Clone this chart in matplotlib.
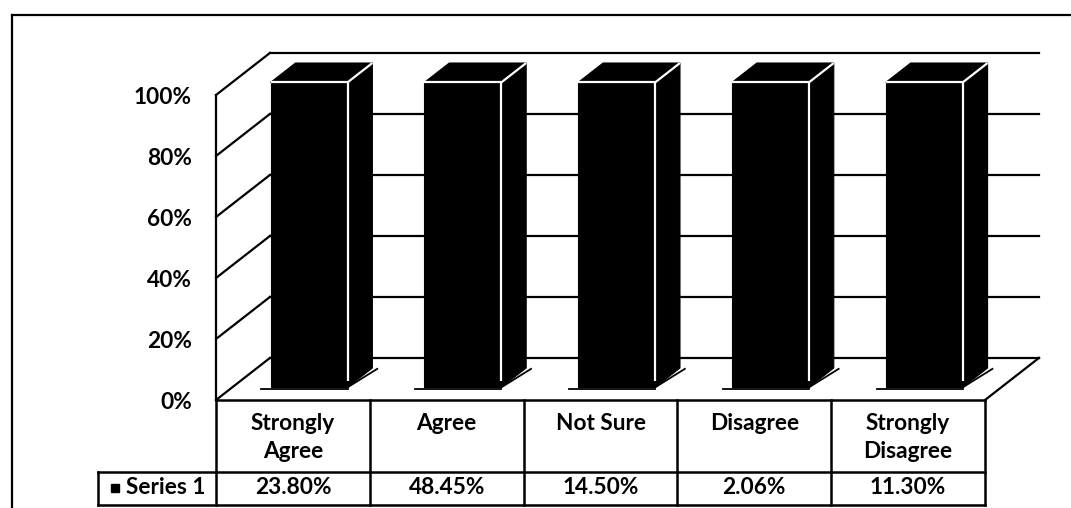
import matplotlib
matplotlib.use("Agg")
import matplotlib.pyplot as plt
from matplotlib.patches import Polygon
from matplotlib.lines import Line2D

# ---- data ----
categories = ["Strongly\nAgree", "Agree", "Not Sure", "Disagree", "Strongly\nDisagree"]
series_name = "Series 1"
series_1 = [23.80, 48.45, 14.50, 2.06, 11.30]
value_labels = ["23.80%", "48.45%", "14.50%", "2.06%", "11.30%"]
y_ticks = [0, 20, 40, 60, 80, 100]
y_tick_labels = ["0%", "20%", "40%", "60%", "80%", "100%"]

# 100% stacked column: each series is shown as its share of the category total
totals = [v for v in series_1]
shares = [100.0 * v / t for v, t in zip(series_1, totals)]

plt.rcParams["font.family"] = ["Lato", "DejaVu Sans"]
FS = 16.3

W, H = 1071, 508
fig = plt.figure(figsize=(W / 100, H / 100), dpi=100)
fig.patch.set_facecolor("white")


def frac(x0, y0, x1, y1):
    return [x0 / W, 1 - y1 / H, (x1 - x0) / W, (y1 - y0) / H]


n = len(categories)
ax = fig.add_axes(frac(216, 95, 985, 400))
ax.set_xlim(-0.5, n - 0.5)
ax.set_ylim(0, 100)
ax.axis("off")

# oblique depth direction in data units (z = 0 front, z = 1 back wall)
DXU = 0.351
DYU = 13.8
LW = 1.6


def proj(x, y, z):
    return x + DXU * z, y + DYU * z


def line(a, xs, ys, **kw):
    kw.setdefault("color", "black")
    kw.setdefault("lw", LW)
    a.plot(xs, ys, clip_on=False, **kw)


# back wall gridlines
for t in y_ticks:
    xa, ya = proj(-0.5, t, 1)
    xb, yb = proj(n - 0.5, t, 1)
    line(ax, [xa, xb], [ya, yb], zorder=1)

# left wall: front edge and diagonal tick lines
line(ax, [-0.5, -0.5], [0, 100], zorder=1)
for t in y_ticks:
    xa, ya = proj(-0.5, t, 0)
    xb, yb = proj(-0.5, t, 1)
    line(ax, [xa, xb], [ya, yb], zorder=1)

# floor right edge
xa, ya = proj(n - 0.5, 0, 0)
xb, yb = proj(n - 0.5, 0, 1)
line(ax, [xa, xb], [ya, yb], zorder=1)

# y tick labels
for t, lab in zip(y_ticks, y_tick_labels):
    ax.text(-0.5 - 24 / 153.8, t - 0.8, lab, ha="right", va="center",
            fontsize=FS, fontweight="bold", clip_on=False)

# 3D columns
ZF, ZB = 0.30, 0.76
HALF = 0.25
for i, h in enumerate(shares):
    x0, y0 = proj(i - HALF, 0, ZF)
    x1, _ = proj(i + HALF, 0, ZF)
    y1 = h + DYU * ZF
    ddx = (ZB - ZF) * DXU
    ddy = (ZB - ZF) * DYU
    front = [(x0, y0), (x1, y0), (x1, y1), (x0, y1)]
    side = [(x1, y0), (x1 + ddx, y0 + ddy), (x1 + ddx, y1 + ddy), (x1, y1)]
    top = [(x0, y1), (x1, y1), (x1 + ddx, y1 + ddy), (x0 + ddx, y1 + ddy)]
    # base outline on the floor
    line(ax, [x0 - 0.06, x1], [y0 - 0.5, y0 - 0.5], lw=1.3, zorder=2)
    line(ax, [x1, x1 + 0.55 * DXU], [y0, y0 + 0.55 * DYU * 0.8], lw=1.3, zorder=2)
    for poly in (side, top, front):
        ax.add_patch(Polygon(poly, closed=True, facecolor="black",
                             edgecolor="black", lw=0.8, zorder=3, clip_on=False))
    line(ax, [x0, x1], [y1, y1], color="white", lw=1.6, zorder=4, solid_capstyle="butt")
    line(ax, [x1, x1], [y0 + 2, y1], color="white", lw=1.6, zorder=4, solid_capstyle="butt")
    line(ax, [x1, x1 + ddx], [y1, y1 + ddy], color="white", lw=1.6, zorder=4, solid_capstyle="butt")

# ---- data table ----
tab = fig.add_axes(frac(216, 400, 985, 505))
tab.set_xlim(-0.5, n - 0.5)
tab.set_ylim(1, 0)
tab.axis("off")
ROW = (472 - 400) / 105
LEG_L = -0.5 - (216 - 98) / 153.8
TLW = 1.8

line(tab, [-0.5, n - 0.5], [0, 0], lw=TLW)
line(tab, [LEG_L, n - 0.5], [ROW, ROW], lw=TLW)
line(tab, [LEG_L, n - 0.5], [1, 1], lw=TLW)
for b in range(n + 1):
    line(tab, [b - 0.5, b - 0.5], [0, 1], lw=TLW)
line(tab, [LEG_L, LEG_L], [ROW, 1], lw=TLW)

VAL_Y = (488 - 400) / 105
for i, (cat, val) in enumerate(zip(categories, value_labels)):
    tab.text(i, 0.125, cat, ha="center", va="top", fontsize=FS,
             fontweight="bold", linespacing=1.38)
    tab.text(i, VAL_Y, val, ha="center", va="center",
             fontsize=FS, fontweight="bold")

tab.plot([-0.5 - (216 - 115) / 153.8], [VAL_Y], marker="s",
         color="black", markersize=6, clip_on=False)
tab.text(-0.5 - (216 - 126) / 153.8, VAL_Y, series_name,
         ha="left", va="center", fontsize=FS, fontweight="bold", clip_on=False)

# chart area frame
fig.add_artist(Line2D([12 / W, 1], [1 - 15 / H, 1 - 15 / H],
                      transform=fig.transFigure, color="black", lw=1.6))
fig.add_artist(Line2D([12 / W, 12 / W], [1 - 15 / H, 0],
                      transform=fig.transFigure, color="black", lw=1.6))

fig.savefig("out.png", dpi=100, facecolor="white")
